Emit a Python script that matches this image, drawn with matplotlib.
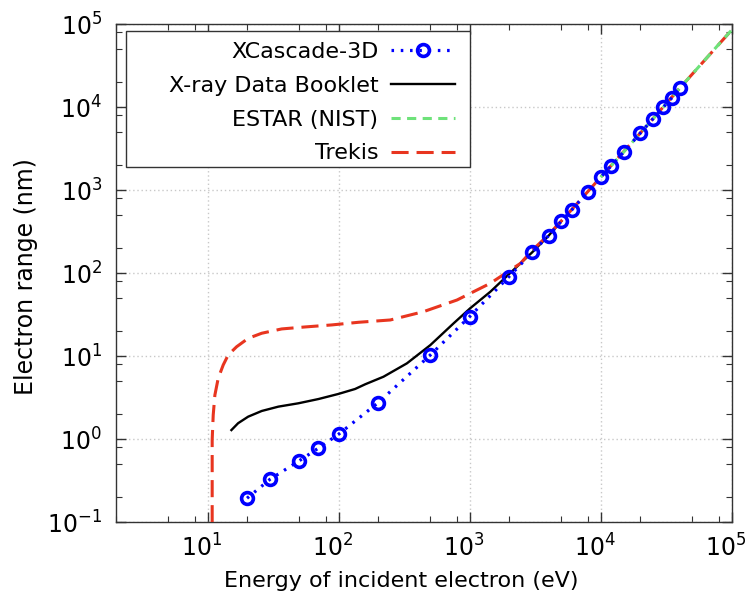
import matplotlib
matplotlib.use("Agg")
import matplotlib.pyplot as plt
import matplotlib.transforms as mtransforms
from matplotlib.patches import Rectangle
from matplotlib.ticker import FixedLocator, LogLocator, NullFormatter

# XCascade-3D simulation points
xc_energy = [20, 30, 50, 70, 100, 200, 500, 1000, 2000, 3000, 4000, 5000, 6000,
             8000, 10000, 12000, 15000, 20000, 25000, 30000, 35000, 40000]
xc_range = [0.195, 0.33, 0.55, 0.78, 1.15, 2.75, 10.3, 30, 91, 178, 282, 421, 575,
            957, 1430, 1950, 2880, 4830, 7180, 9930, 12950, 16800]

# X-ray Data Booklet curve
xdb_energy = [15.2, 17.1, 20.4, 25.9, 34.7, 49.3, 70.2, 99.5, 133.6, 159.5, 220,
              332, 501, 755, 1010, 1440, 2440, 3000, 4000, 5000]
xdb_range = [1.29, 1.56, 1.87, 2.19, 2.47, 2.71, 3.05, 3.51, 4.03, 4.59, 5.66,
             8.2, 13.6, 24.9, 37.8, 59.8, 131, 178, 282, 421]

# ESTAR (NIST)
estar_energy = [10000, 15000, 20000, 30000, 40000, 50000, 60000, 80000, 100000]
estar_range = [1430, 2880, 4830, 9930, 16800, 24900, 34500, 57300, 84700]

# Trekis
trekis_energy = [10.84, 10.84, 11.04, 11.37, 12.05, 13.16, 14.37, 16.66, 20.4,
                 25.9, 36.8, 55.5, 88.7, 141.6, 248, 445, 801, 1440, 2440, 3000,
                 4000, 6000, 10000, 20000, 40000, 100000]
trekis_range = [0.05, 0.98, 1.96, 3.41, 5.42, 7.84, 10.35, 13.0, 16.4,
                18.9, 21.3, 22.5, 23.8, 25.6, 27.3, 34.4, 47.5, 75.5, 131, 188,
                290, 580, 1430, 4830, 16800, 84700]

x_decades = [1e1, 1e2, 1e3, 1e4, 1e5]
y_decades = [1e-1, 1e0, 1e1, 1e2, 1e3, 1e4, 1e5]

blue = "#0000ff"
red = "#e8351f"
green = "#6ee27a"
frame = "#333333"

fig = plt.figure(figsize=(7.52, 5.96), dpi=100)
ax = fig.add_axes([116 / 752, 1 - 522.3 / 596, 615.7 / 752, 498.3 / 596])

ax.plot(xc_energy, xc_range, color=blue, lw=2.3, ls=(0, (0.8, 2.1)),
        marker="o", ms=8.5, mfc="none", mec=blue, mew=2.6, label="XCascade-3D", zorder=5)
ax.plot(xdb_energy, xdb_range, color="black", lw=1.7, label="X-ray Data Booklet", zorder=3)
ax.plot(estar_energy, estar_range, color=green, lw=2.2, ls=(0, (3.0, 2.1)),
        label="ESTAR (NIST)", zorder=4)
ax.plot(trekis_energy, trekis_range, color=red, lw=2.2, ls=(0, (5.6, 2.6)),
        label="Trekis", zorder=3.5)

ax.set_xscale("log")
ax.set_yscale("log")
ax.set_xlim(2, 1e5)
ax.set_ylim(0.1, 1e5)

ax.xaxis.set_major_locator(FixedLocator(x_decades))
ax.yaxis.set_major_locator(FixedLocator(y_decades))
for axis in (ax.xaxis, ax.yaxis):
    axis.set_minor_locator(LogLocator(base=10, subs=(2, 5, 8), numticks=12))
    axis.set_minor_formatter(NullFormatter())

ax.tick_params(which="both", direction="in", top=True, right=True, color=frame)
ax.tick_params(which="major", length=7, width=1, labelsize=17)
ax.tick_params(axis="y", which="major", pad=10)
ax.tick_params(axis="x", which="major", pad=9)
ax.tick_params(which="minor", length=4, width=0.8)
ax.grid(which="major", color="#c8c8c8", ls=(0, (1, 2)), lw=1)
for s in ax.spines.values():
    s.set_color(frame)
    s.set_linewidth(1)

shift = mtransforms.ScaledTranslation(-6 / 100, 0, fig.dpi_scale_trans)
for lab in ax.get_xticklabels():
    lab.set_transform(lab.get_transform() + shift)

ax.set_xlabel("Energy of incident electron (eV)", fontsize=16)
ax.set_ylabel("Electron range (nm)", fontsize=17)
ax.xaxis.set_label_coords((401 - 116) / 615.7, (522.3 - 571) / 498.3)
ax.yaxis.set_label_coords((38 - 116) / 615.7, (522.3 - 277) / 498.3)

leg = ax.legend(loc="upper right", bbox_to_anchor=((455 - 116) / 615.7, (522.3 - 42) / 498.3),
                markerfirst=False, frameon=False, fontsize=16, handlelength=2.9,
                handletextpad=0.55, labelspacing=0.62, borderpad=0, borderaxespad=0)
leg.set_zorder(10)
ax.add_patch(Rectangle(((126 - 116) / 615.7, (522.3 - 167) / 498.3),
                       (470 - 126) / 615.7, (167 - 31) / 498.3,
                       transform=ax.transAxes, facecolor="white", edgecolor=frame,
                       lw=1, zorder=9))

fig.savefig("out.png", dpi=100)
